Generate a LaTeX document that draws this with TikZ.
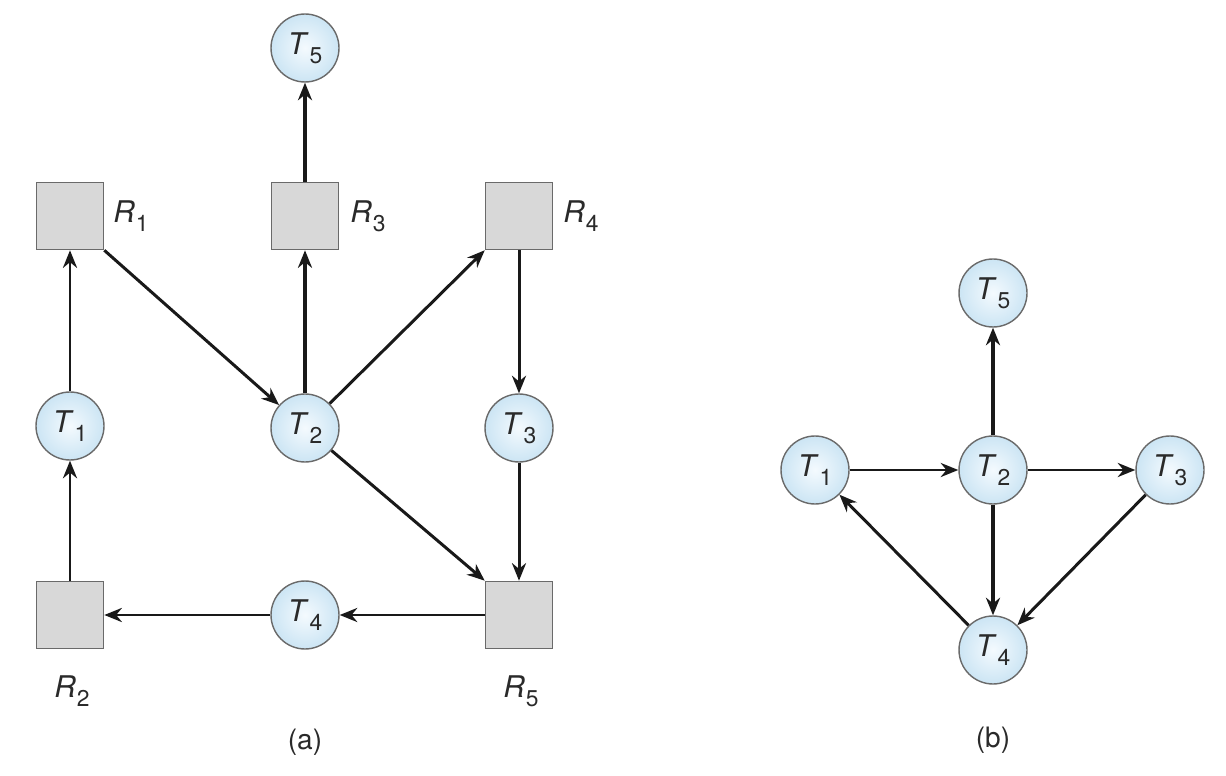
\documentclass[tikz,border=0pt]{standalone}
\usepackage{fontspec}
\setmainfont{TeX Gyre Heros}
\usetikzlibrary{arrows.meta}
\definecolor{tfillin}{HTML}{F4FAFE}
\definecolor{tfillout}{HTML}{CCE5F4}
\definecolor{tborder}{HTML}{6A6A6A}
\definecolor{rfill}{HTML}{D8D8D8}
\definecolor{txt}{HTML}{2A2A2A}
\newcommand\Tlab[1]{\textit{T}\kern0.5pt\raisebox{-0.55ex}{\fontsize{13}{13}\selectfont #1}}
\newcommand\Rlab[1]{\textit{R}\kern0.5pt\raisebox{-0.55ex}{\fontsize{13}{13}\selectfont #1}}
\begin{document}
\begin{tikzpicture}[x=0.02cm,y=-0.02cm,
  task/.style={circle, draw=tborder, line width=0.8pt, minimum size=1.36cm, inner sep=0pt,
    inner color=tfillin, outer color=tfillout, text=txt, font=\fontsize{17}{17}\selectfont},
  res/.style={rectangle, draw=tborder, line width=0.9pt, fill=rfill, minimum size=1.34cm, inner sep=0pt},
  lbl/.style={text=txt, font=\fontsize{17}{17}\selectfont, inner sep=0pt},
  arr/.style={-{Stealth[length=10pt,width=8pt]}, line width=1.7pt, draw=black!90},
  tarr/.style={arr, line width=2.3pt}]
\useasboundingbox (0,0) rectangle (1226,776);
% (a)
\node[task] (aT5) at (305,48) {\Tlab{5}};
\node[res] (R1) at (70,216) {};
\node[res] (R3) at (305,216) {};
\node[res] (R4) at (519,216) {};
\node[task] (aT1) at (70,426) {\Tlab{1}};
\node[task] (aT2) at (305,428) {\Tlab{2}};
\node[task] (aT3) at (519,428) {\Tlab{3}};
\node[res] (R2) at (70,615) {};
\node[task] (aT4) at (305,615) {\Tlab{4}};
\node[res] (R5) at (519,615) {};
\node[lbl] (lR1) at (131,216) {\Rlab{1}};
\node[lbl] (lR3) at (368,216) {\Rlab{3}};
\node[lbl] (lR4) at (581,216) {\Rlab{4}};
\node[lbl] (lR2) at (72,691) {\Rlab{2}};
\node[lbl] (lR5) at (521,691) {\Rlab{5}};
\node[lbl, font=\fontsize{16}{16}\selectfont] (la) at (305,742) {(a)};
\draw[tarr] (R3) -- (aT5);
\draw[arr] (aT1) -- (R1);
\draw[arr] (R2) -- (aT1);
\draw[arr] (R1.south east) -- (aT2);
\draw[tarr] (aT2) -- (R3);
\draw[arr] (aT2) -- (R4.south west);
\draw[arr] (R4) -- (aT3);
\draw[arr] (aT3) -- (R5);
\draw[arr] (aT2) -- (R5.north west);
\draw[arr] (R5) -- (aT4);
\draw[arr] (aT4) -- (R2);
% (b)
\node[task] (bT5) at (993,293) {\Tlab{5}};
\node[task] (bT1) at (815,470) {\Tlab{1}};
\node[task] (bT2) at (993,470) {\Tlab{2}};
\node[task] (bT3) at (1170,470) {\Tlab{3}};
\node[task] (bT4) at (993,650) {\Tlab{4}};
\node[lbl, font=\fontsize{16}{16}\selectfont] (lb) at (993,740) {(b)};
\draw[tarr] (bT2) -- (bT5);
\draw[arr] (bT1) -- (bT2);
\draw[arr] (bT2) -- (bT3);
\draw[tarr] (bT2) -- (bT4);
\draw[arr] (bT3) -- (bT4);
\draw[arr] (bT4) -- (bT1);
\end{tikzpicture}
\end{document}
